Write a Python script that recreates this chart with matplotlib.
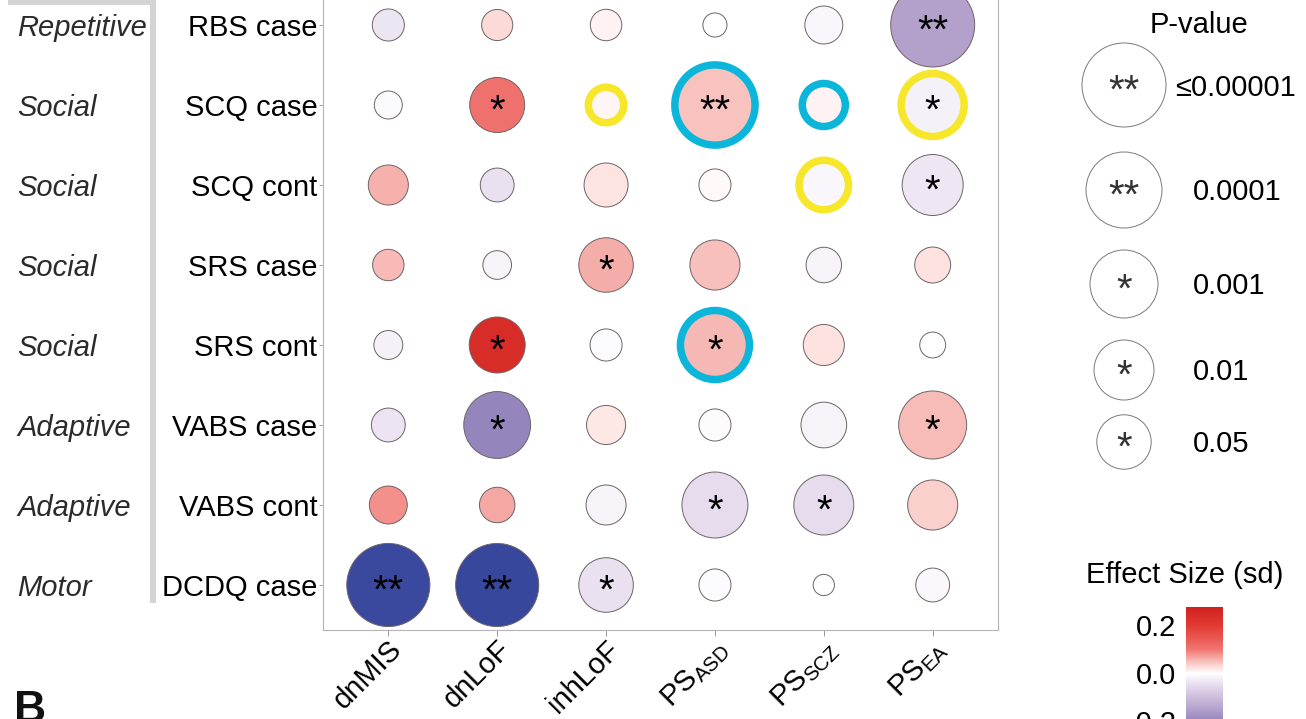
import numpy as np
import matplotlib
matplotlib.use("Agg")
import matplotlib.pyplot as plt
from matplotlib.colors import LinearSegmentedColormap, Normalize
from matplotlib.cm import ScalarMappable
from matplotlib.transforms import blended_transform_factory, offset_copy
from matplotlib.lines import Line2D

plt.rcParams["font.family"] = ["Liberation Sans", "DejaVu Sans"]
plt.rcParams["mathtext.fontset"] = "custom"
plt.rcParams["mathtext.rm"] = "Liberation Sans"
plt.rcParams["mathtext.it"] = "Liberation Sans:italic"
plt.rcParams["axes.unicode_minus"] = False

# ---- data -----------------------------------------------------------------
measures = ["RBS case", "SCQ case", "SCQ cont", "SRS case", "SRS cont",
            "VABS case", "VABS cont", "DCDQ case"]
domains = ["Repetitive", "Social", "Social", "Social", "Social",
           "Adaptive", "Adaptive", "Motor"]
predictors = ["dnMIS", "dnLoF", "inhLoF", "PS_ASD", "PS_SCZ", "PS_EA"]
predictor_labels = ["dnMIS", "dnLoF", "inhLoF",
                    r"$\mathregular{PS_{ASD}}$", r"$\mathregular{PS_{SCZ}}$",
                    r"$\mathregular{PS_{EA}}$"]

# effect size (sd), one row per measure, columns follow `predictors`
effect_rbs_case = [-0.037, 0.027, 0.008, 0.000, -0.012, -0.150]
effect_scq_case = [-0.007, 0.105, 0.006, 0.045, 0.008, -0.020]
effect_scq_cont = [0.057, -0.045, 0.020, 0.004, -0.012, -0.035]
effect_srs_case = [0.052, -0.017, 0.060, 0.048, -0.017, 0.021]
effect_srs_cont = [-0.020, 0.240, -0.006, 0.053, 0.021, 0.000]
effect_vabs_case = [-0.038, -0.200, 0.017, -0.005, -0.017, 0.050]
effect_vabs_cont = [0.080, 0.065, -0.017, -0.050, -0.050, 0.035]
effect_dcdq_case = [-0.420, -0.430, -0.045, -0.006, 0.000, -0.010]

# p-values, same layout
p_rbs_case = [0.35, 0.38, 0.37, 0.70, 0.21, 1e-5]
p_scq_case = [0.50, 0.042, 0.26, 3e-5, 0.135, 0.0042]
p_scq_cont = [0.175, 0.30, 0.124, 0.35, 0.077, 0.0075]
p_srs_case = [0.37, 0.47, 0.049, 0.073, 0.26, 0.25]
p_srs_cont = [0.46, 0.032, 0.35, 0.00075, 0.16, 0.60]
p_vabs_case = [0.30, 0.0014, 0.19, 0.35, 0.107, 0.001]
p_vabs_cont = [0.21, 0.26, 0.175, 0.0018, 0.01, 0.073]
p_dcdq_case = [1.3e-5, 1.3e-5, 0.048, 0.35, 0.90, 0.30]

# highlighted cells (measure, predictor)
highlight_yellow = [("SCQ case", "inhLoF"), ("SCQ case", "PS_EA"),
                    ("SCQ cont", "PS_SCZ")]
highlight_cyan = [("SCQ case", "PS_ASD"), ("SCQ case", "PS_SCZ"),
                  ("SRS cont", "PS_ASD")]

legend_p = [1e-5, 1e-4, 1e-3, 1e-2, 0.05]
legend_labels = ["\u22640.00001", "0.0001", "0.001", "0.01", "0.05"]

effect = np.array([effect_rbs_case, effect_scq_case, effect_scq_cont,
                   effect_srs_case, effect_srs_cont, effect_vabs_case,
                   effect_vabs_cont, effect_dcdq_case])
pvals = np.array([p_rbs_case, p_scq_case, p_scq_cont, p_srs_case,
                  p_srs_cont, p_vabs_case, p_vabs_cont, p_dcdq_case])

# ---- scales ---------------------------------------------------------------
W, H, DPI = 1306, 719, 100
PT = 72.0 / DPI  # points per pixel

vmin, vmax = -0.45, 0.275
nodes = [(-0.45, "#2f4399"), (-0.30, "#6462ac"), (-0.20, "#9585bd"),
         (-0.15, "#b3a1cc"), (-0.05, "#e6dcee"), (0.0, "#ffffff"),
         (0.02, "#fde3e0"), (0.05, "#f7bdb9"), (0.10, "#f07470"),
         (0.15, "#ea5550"), (0.20, "#e03a32"), (0.275, "#d0201f")]
cmap = LinearSegmentedColormap.from_list(
    "effect", [((v - vmin) / (vmax - vmin), c) for v, c in nodes], N=512)
norm = Normalize(vmin, vmax)


def radius_px(p):
    x = -np.log10(np.asarray(p, dtype=float))
    return np.interp(x, [0.0, 1.3, 5.0], [10.0, 27.2, 42.0])


def marker_area(p):
    return (2 * radius_px(p) * PT) ** 2


def stars(p):
    return "**" if p <= 1e-4 else ("*" if p <= 0.05 else "")


# ---- figure ---------------------------------------------------------------
fig = plt.figure(figsize=(W / DPI, H / DPI), dpi=DPI)

# pixel-space overlay for bracket, legend and panel letter
oax = fig.add_axes([0, 0, 1, 1])
oax.set_xlim(0, W)
oax.set_ylim(H, 0)
oax.axis("off")

ax = fig.add_axes([323 / W, 1 - 630 / H, 675 / W, 650 / H])
ax.set_xlim(-0.6, len(predictors) - 0.4)
ax.set_ylim(len(measures) - 0.4375, -0.5625)

rows, cols = np.meshgrid(np.arange(len(measures)), np.arange(len(predictors)),
                         indexing="ij")
ring = np.full(effect.shape, "", dtype=object)
for m, pr in highlight_yellow:
    ring[measures.index(m), predictors.index(pr)] = "#f6e72b"
for m, pr in highlight_cyan:
    ring[measures.index(m), predictors.index(pr)] = "#0cb6da"

plain = ring == ""
ax.scatter(cols[plain], rows[plain], s=marker_area(pvals[plain]),
           c=effect[plain], cmap=cmap, norm=norm,
           edgecolors="#6e6464", linewidths=0.7, zorder=3)
ax.scatter(cols[~plain], rows[~plain], s=marker_area(pvals[~plain]),
           c=effect[~plain], cmap=cmap, norm=norm,
           edgecolors=list(ring[~plain]), linewidths=7.5 * PT, zorder=3)

star_fs = 29
star_drop = 0.45 * star_fs  # points from glyph centre down to baseline
star_tr = offset_copy(ax.transData, fig=fig, x=0, y=-star_drop,
                      units="points")
for i in range(len(measures)):
    for j in range(len(predictors)):
        s = stars(pvals[i, j])
        if s:
            ax.text(j, i, s, transform=star_tr, ha="center", va="baseline",
                    fontsize=star_fs, color="black", zorder=4)

# axes styling
for side in ["left", "bottom", "right", "top"]:
    ax.spines[side].set_color("#b5b5b5")
    ax.spines[side].set_linewidth(0.8)
ax.set_yticks(range(len(measures)))
ax.set_yticklabels(measures, fontsize=21)
ax.set_xticks(range(len(predictors)))
ax.set_xticklabels([])
ax.tick_params(axis="y", length=3, width=0.7, color="#999999", pad=1)
ax.tick_params(axis="x", length=4, width=0.7, color="#999999")

xlab_tr = offset_copy(blended_transform_factory(ax.transData, ax.transAxes),
                      fig=fig, x=9 * PT, y=-15 * PT, units="points")
for j, lab in enumerate(predictor_labels):
    ax.text(j, 0, lab, transform=xlab_tr, rotation=45, rotation_mode="anchor",
            ha="right", va="center", fontsize=21)

dom_tr = offset_copy(blended_transform_factory(fig.transFigure, ax.transData),
                     fig=fig, x=0, y=-10.5 * PT, units="points")
for i, d in enumerate(domains):
    ax.text(17 / W, i, d, transform=dom_tr, ha="left", va="baseline",
            fontsize=21, style="italic", color="#2b2b2b")

# grey bracket joining the domain labels
oax.add_line(Line2D([8, 153, 153], [2, 2, 603], color="#d4d4d4",
                    linewidth=6 * PT, solid_joinstyle="miter",
                    solid_capstyle="butt"))

# ---- p-value legend -------------------------------------------------------
leg_x = 1124
leg_y = [85, 190, 284, 370, 442]
oax.text(1199, 33, "P-value", ha="center", va="baseline", fontsize=21)
oax.scatter([leg_x] * len(legend_p), leg_y, s=marker_area(legend_p),
            facecolors="white", edgecolors="#7a7a7a", linewidths=0.7)
for k, (pv, lab) in enumerate(zip(legend_p, legend_labels)):
    oax.text(leg_x, leg_y[k] + star_drop / PT, stars(pv), ha="center",
             va="baseline", fontsize=star_fs, color="#333333")
    lx = 1175 if k == 0 else 1193
    oax.text(lx, leg_y[k] + 10.5, lab, ha="left", va="baseline", fontsize=21)

# ---- colour bar -----------------------------------------------------------
oax.text(1185, 583, "Effect Size (sd)", ha="center", va="baseline",
         fontsize=21)
cb_top = 607
cb_len = (vmax - vmin) * 240
cax = fig.add_axes([1186 / W, 1 - (cb_top + cb_len) / H, 37 / W, cb_len / H])
cb = fig.colorbar(ScalarMappable(norm=norm, cmap=cmap), cax=cax)
cb.outline.set_visible(False)
cb.set_ticks([-0.2, 0.0, 0.2])
cb.set_ticklabels(["-0.2", "0.0", "0.2"])
cax.yaxis.set_ticks_position("left")
cax.tick_params(length=0, pad=7, labelsize=21)

# panel letter of the following panel
oax.text(14, 722, "B", ha="left", va="baseline", fontsize=32,
         fontweight="bold", color="#111111")

fig.savefig("out.png", dpi=DPI)
